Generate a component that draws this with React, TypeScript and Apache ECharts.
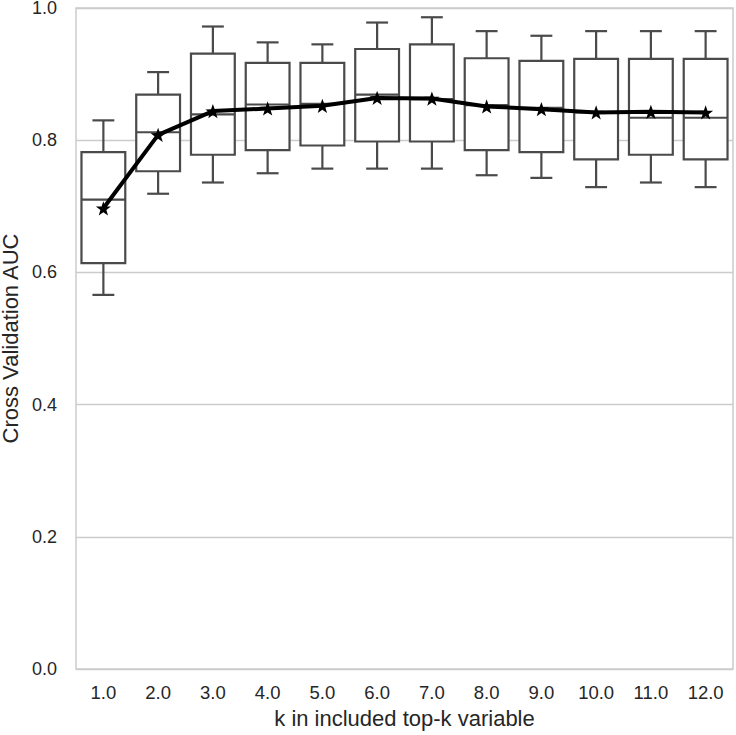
import React, { useEffect, useRef } from "react";
import * as echarts from "echarts";

const categories = ["1.0", "2.0", "3.0", "4.0", "5.0", "6.0", "7.0", "8.0", "9.0", "10.0", "11.0", "12.0"];
const whiskerLow = [0.566, 0.719, 0.736, 0.750, 0.757, 0.757, 0.757, 0.747, 0.743, 0.729, 0.736, 0.729];
const q1 = [0.614, 0.753, 0.778, 0.785, 0.792, 0.798, 0.798, 0.785, 0.782, 0.771, 0.778, 0.771];
const median = [0.710, 0.812, 0.839, 0.854, 0.855, 0.869, 0.862, 0.853, 0.849, 0.842, 0.834, 0.834];
const q3 = [0.782, 0.869, 0.931, 0.917, 0.917, 0.938, 0.945, 0.924, 0.920, 0.923, 0.923, 0.923];
const whiskerHigh = [0.830, 0.903, 0.972, 0.948, 0.945, 0.978, 0.986, 0.965, 0.958, 0.965, 0.965, 0.965];
const means = [0.697, 0.808, 0.844, 0.848, 0.852, 0.864, 0.863, 0.851, 0.847, 0.842, 0.843, 0.842];
const yTicks = [0, 0.2, 0.4, 0.6, 0.8, 1.0];

const STAR =
  "path://M0,-10 L2.35,-3.24 L9.51,-3.09 L3.8,1.24 L5.88,8.09 L0,4 L-5.88,8.09 L-3.8,1.24 L-9.51,-3.09 L-2.35,-3.24 Z";

export default function App() {
  const ref = useRef<HTMLDivElement>(null);
  useEffect(() => {
    if (!ref.current) return;
    const chart = echarts.init(ref.current, null, { renderer: "svg" });
    const boxData = categories.map((_, i) => [i, whiskerLow[i], q1[i], median[i], q3[i], whiskerHigh[i]]);
    const edge = "#4a4a4a";
    const font = "Liberation Sans, Arial, sans-serif";
    chart.setOption({
      animation: false,
      backgroundColor: "#ffffff",
      grid: {
        left: 76, right: 3, top: 8, bottom: 66,
        containLabel: false,
        outerBoundsMode: "none",
        show: true, borderColor: "#cccccc", borderWidth: 1.5, backgroundColor: "transparent",
      },
      xAxis: {
        type: "category",
        data: categories,
        boundaryGap: true,
        axisLine: { show: false },
        axisTick: { show: false },
        splitLine: { show: false },
        axisLabel: { color: "#262626", fontSize: 18.5, fontFamily: font, margin: 14 },
        name: "k in included top-k variable",
        nameLocation: "middle",
        nameGap: 38,
        nameTextStyle: { color: "#262626", fontSize: 22, fontFamily: font },
      },
      yAxis: {
        type: "value",
        min: yTicks[0],
        max: yTicks[yTicks.length - 1],
        interval: 0.2,
        axisLine: { show: false },
        axisTick: { show: false },
        splitLine: { show: true, lineStyle: { color: "#cccccc", width: 1.3 } },
        axisLabel: { color: "#262626", fontSize: 18, fontFamily: font, margin: 19, formatter: (v: number) => v.toFixed(1) },
        name: "Cross Validation AUC",
        nameLocation: "middle",
        nameGap: 50,
        nameTextStyle: { color: "#262626", fontSize: 22, fontFamily: font },
      },
      series: [
        {
          type: "custom",
          data: boxData,
          encode: { x: 0, y: [1, 2, 3, 4, 5] },
          z: 2,
          renderItem: (params: any, api: any) => {
            const x = api.value(0);
            const pWl = api.coord([x, api.value(1)]);
            const pQ1 = api.coord([x, api.value(2)]);
            const pMed = api.coord([x, api.value(3)]);
            const pQ3 = api.coord([x, api.value(4)]);
            const pWh = api.coord([x, api.value(5)]);
            const band = api.size([1, 0])[0];
            const w = band * 0.8;
            const cw = w * 0.5;
            const cx = pMed[0];
            const ls = { stroke: edge, lineWidth: 2.2, fill: null };
            return {
              type: "group",
              children: [
                { type: "line", shape: { x1: cx, y1: pWl[1], x2: cx, y2: pQ1[1] }, style: ls },
                { type: "line", shape: { x1: cx, y1: pQ3[1], x2: cx, y2: pWh[1] }, style: ls },
                { type: "line", shape: { x1: cx - cw / 2, y1: pWl[1], x2: cx + cw / 2, y2: pWl[1] }, style: ls },
                { type: "line", shape: { x1: cx - cw / 2, y1: pWh[1], x2: cx + cw / 2, y2: pWh[1] }, style: ls },
                {
                  type: "rect",
                  shape: { x: cx - w / 2, y: pQ3[1], width: w, height: pQ1[1] - pQ3[1] },
                  style: { fill: "#ffffff", stroke: edge, lineWidth: 2.2 },
                },
                { type: "line", shape: { x1: cx - w / 2, y1: pMed[1], x2: cx + w / 2, y2: pMed[1] }, style: ls },
              ],
            };
          },
        },
        {
          type: "line",
          data: means,
          z: 5,
          symbol: STAR,
          symbolSize: 15,
          symbolKeepAspect: true,
          showSymbol: true,
          lineStyle: { color: "#000000", width: 4 },
          itemStyle: { color: "#000000" },
        },
      ],
    });
    return () => chart.dispose();
  }, []);
  return <div ref={ref} style={{ position: "fixed", left: 0, top: 0, width: 736, height: 735 }} />;
}
